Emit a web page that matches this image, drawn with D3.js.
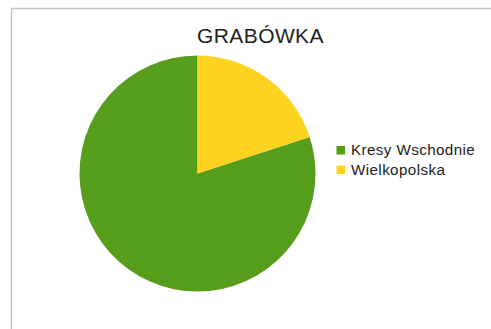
<!DOCTYPE html>
<html>
<head>
<meta charset="utf-8">
<script src="https://cdn.jsdelivr.net/npm/d3@7"></script>
<style>
  html, body { margin: 0; padding: 0; background: #fff; }
  svg { display: block; }
</style>
</head>
<body>
<svg id="chart" width="491" height="329"></svg>
<script>
// Share of settlers in Grabówka by region of origin (%)
const categories = ["Kresy Wschodnie", "Wielkopolska"];
const values = [80, 20];
const colors = ["#579d1c", "#ffd320"];
const title = "GRABÓWKA";

const svg = d3.select("#chart");
const font = "'Liberation Sans', Arial, Helvetica, sans-serif";

// Chart frame (runs off the right and bottom edges)
svg.append("rect")
  .attr("x", 11.5).attr("y", 8.5)
  .attr("width", 600).attr("height", 400)
  .attr("fill", "#fff")
  .attr("stroke", "#c4c4c4")
  .attr("stroke-width", 1.5);

svg.append("text")
  .attr("x", 260.5).attr("y", 43)
  .attr("text-anchor", "middle")
  .attr("font-family", font)
  .attr("font-size", 21)
  .attr("letter-spacing", 0.4)
  .attr("fill", "#222")
  .text(title);

const color = d3.scaleOrdinal().domain(categories).range(colors);

// Slices run counter-clockwise from twelve o'clock
const pie = d3.pie().sort(null).value(d => d.value)
  .startAngle(0).endAngle(-2 * Math.PI);
const arc = d3.arc().innerRadius(0).outerRadius(118);

const data = categories.map((c, i) => ({ name: c, value: values[i] }));

svg.append("g")
  .attr("transform", "translate(197.5,173.5)")
  .selectAll("path")
  .data(pie(data))
  .join("path")
  .attr("d", arc)
  .attr("fill", d => color(d.data.name));

const legend = svg.append("g").attr("transform", "translate(336.5,146)");
const rows = legend.selectAll("g")
  .data(categories)
  .join("g")
  .attr("transform", (d, i) => `translate(0,${i * 19.5})`);

rows.append("rect")
  .attr("width", 8.5).attr("height", 8.5)
  .attr("fill", d => color(d));

rows.append("text")
  .attr("x", 14.5).attr("y", 9.3)
  .attr("font-family", font)
  .attr("font-size", 15.2)
  .attr("letter-spacing", 0.4)
  .attr("fill", "#222")
  .text(d => d);
</script>
</body>
</html>
